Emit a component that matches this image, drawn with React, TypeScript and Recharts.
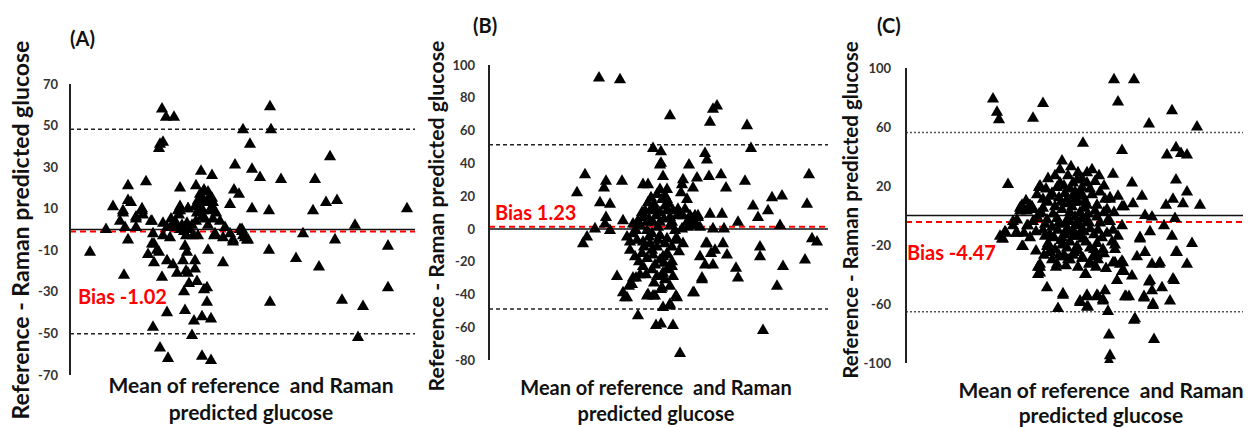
import React from "react";
import { ScatterChart, Scatter, XAxis, YAxis, ZAxis, ReferenceLine } from "recharts";

type Pt = [number, number];

const FONT = "Lato, 'Open Sans', sans-serif";

// (A) mean glucose vs difference
const panelAPoints: Pt[] = [
  [142, 58], [146, 54], [154, 54], [143, 42], [140, 41], [139, 39], [250, 59], [251, 48], [223, 48], [230, 41],
  [310, 35], [215, 31], [232, 29], [240, 25], [261, 24], [295, 24], [181, 28], [192, 26], [108, 21], [126, 23],
  [160, 20], [176, 21], [214, 19], [219, 17], [93, 11], [108, 14], [111, 13], [122, 10], [123, 7], [116, 6],
  [103, 8], [100, 4], [105, 1], [116, 1], [86, 0], [131, 4], [180, 17], [188, 18], [182, 15], [192, 15],
  [185, 13], [192, 11], [168, 10], [177, 11], [160, 11], [158, 9], [210, 12], [232, 10], [249, 9], [293, 9],
  [306, 13], [317, 14], [387, 10], [335, 2], [283, -2], [222, 0], [223, -3], [227, -5], [228, -5], [213, -6],
  [203, -4], [194, -3], [200, 4], [70, -11], [108, -5], [249, -10], [276, -14], [299, -18], [315, -5], [368, -8],
  [104, -22], [128, -12], [134, -7], [137, -10], [139, -11], [134, -16], [147, -15], [153, -17], [157, -21], [142, -23],
  [165, -8], [167, -11], [163, -15], [168, -21], [166, -20], [175, -15], [175, -19], [203, -16], [188, -10], [164, -30],
  [169, -26], [177, -25], [184, -29], [187, -28], [187, -35], [147, -40], [165, -39], [174, -44], [182, -42], [191, -43],
  [133, -47], [172, -51], [140, -57], [148, -62], [182, -61], [191, -63], [250, -35], [322, -34], [343, -37], [368, -28],
  [338, -52], [143, 3], [151, 5], [152, 2], [157, 1], [162, 2], [167, 3], [172, 2], [143, -3], [150, -4],
  [160, 0], [166, -3], [173, -3], [178, -3], [170, 0], [132, 4], [133, -2], [160, 9], [168, 10], [175, 11],
  [178, 14], [187, 13], [182, 6], [185, 5], [188, 2], [193, 5], [195, -2], [213, -5], [220, 0], [225, -4],
  [222, -1], [193, 13], [190, 9], [180, 10], [177, 8], [159, 7], [116, 5], [122, 9], [103, 9], [132, -7],
  [155, 4], [147, 1], [164, -1], [176, 4], [183, 9], [190, 16], [184, 19], [196, 8], [205, 1], [210, -2],
];

// (B)
const panelBPoints: Pt[] = [
  [160, 92], [181, 91], [231, 69], [271, 65], [274, 73], [278, 75], [308, 63], [312, 49], [214, 49], [222, 47],
  [222, 40], [224, 32], [250, 39], [266, 46], [268, 42], [270, 32], [282, 33], [287, 25], [306, 29], [314, 14],
  [319, 7], [329, 11], [333, 19], [343, 20], [341, 2], [370, 33], [368, 15], [373, -6], [378, -8], [366, -19],
  [344, -23], [338, -35], [321, -11], [321, -17], [324, -62], [299, 4], [284, -9], [288, -16], [268, -9], [272, -15],
  [276, -13], [274, -22], [261, -17], [297, -24], [299, -30], [263, -31], [254, -39], [285, 0], [274, 0], [283, 9],
  [271, 9], [259, 7], [258, 2], [253, 6], [249, 1], [258, 31], [254, 25], [244, 30], [243, 27], [248, 18],
  [242, 22], [138, 22], [146, 33], [167, 29], [165, 25], [161, 16], [171, 15], [183, 29], [167, 7], [166, 3],
  [171, -1], [156, 0], [184, 5], [148, -5], [144, -9], [178, -29], [184, -39], [186, -42], [193, -34], [197, -30],
  [199, -53], [208, -41], [214, -41], [217, -59], [222, -58], [234, -59], [241, -76], [224, -48], [231, -47], [238, -42],
  [231, -35], [222, -37], [223, -28], [228, -25], [233, -23], [224, -17], [229, -16], [244, -9], [238, -6], [204, 27],
  [209, 27], [221, 39], [221, 24], [228, 24], [218, 21], [223, 18], [228, 18], [209, 16], [211, 11], [216, 12],
  [221, 10], [228, 11], [234, 11], [231, 7], [238, 8], [241, 9], [244, 8], [251, 8], [256, 8], [259, 8],
  [254, 3], [261, 1], [206, 11], [204, 7], [199, 5], [194, 3], [201, 2], [208, 4], [214, 4], [221, 4],
  [231, 2], [236, -1], [243, 0], [248, 4], [236, -7], [228, -6], [221, -4], [213, -3], [208, -1], [194, -3],
  [188, -5], [191, -8], [198, -7], [204, -8], [211, -9], [218, -11], [191, -13], [196, -17], [203, -15], [208, -18],
  [213, -13], [221, -19], [228, -15], [233, -20], [204, -23], [201, -28], [213, -25], [218, -29], [224, -27], [229, -24],
  [234, -29], [194, -30], [190, -35], [188, -42], [209, -40], [216, -41], [223, -36], [237, -41], [231, -46], [255, -39],
  [263, -30], [267, -9], [266, -22], [210, 6], [217, 8], [225, 6], [233, 4], [239, 12], [226, 14], [215, 15],
  [203, 10], [197, -1], [205, -11], [214, -16], [219, -7], [226, -9], [233, -11], [240, -14], [225, -21], [216, -22],
  [207, -28], [215, -33], [226, -31], [219, 1], [226, 20], [212, 19], [246, 12], [230, 15], [200, -20], [210, -5],
];

// (C)
const panelCPoints: Pt[] = [
  [137, 79], [141, 70], [143, 65], [177, 66], [187, 76], [258, 92], [278, 92], [262, 77], [293, 62], [316, 71],
  [341, 60], [227, 49], [266, 44], [311, 41], [320, 46], [325, 42], [331, 41], [206, 37], [257, 28], [276, 22],
  [320, 24], [331, 16], [152, 21], [286, 13], [310, 7], [317, 11], [327, 8], [344, 7], [277, 8], [268, 6],
  [262, 13], [254, 11], [289, 0], [296, -1], [319, -2], [294, -11], [308, -7], [316, -14], [336, -19], [284, -16],
  [259, -20], [320, -25], [331, -33], [281, -28], [289, -25], [296, -33], [303, -33], [257, -32], [266, -31], [268, -38],
  [276, -41], [261, -44], [293, -45], [317, -43], [306, -49], [296, -51], [288, -55], [297, -61], [314, -58], [270, -55],
  [273, -55], [278, -71], [298, -84], [231, -54], [224, -59], [232, -62], [242, -55], [249, -51], [247, -58], [252, -65],
  [253, -81], [254, -95], [253, -99], [207, -54], [202, -63], [191, -49], [182, -40], [184, -35], [200, -35], [230, -40],
  [233, -33], [241, -27], [242, -30], [226, -29], [212, -30], [207, -28], [194, -24], [191, -21], [167, -21], [147, -16],
  [150, -12], [160, -12], [172, -7], [157, -4], [164, 5], [176, 6], [171, 3], [183, 1], [183, 19], [192, 25],
  [204, 31], [184, 20], [222, 29], [231, 29], [212, 27], [239, 23], [217, 22], [226, 19], [234, 18], [201, 19],
  [209, 15], [194, 13], [187, 11], [174, 7], [166, 7], [177, 4], [164, 3], [187, 5], [199, 6], [206, 4],
  [216, 6], [222, 9], [231, 7], [241, 7], [249, 11], [254, 12], [266, 6], [251, 4], [232, 1], [241, -1],
  [219, -1], [211, -3], [201, -2], [191, -3], [182, -2], [171, -7], [161, -3], [157, -7], [149, -11], [144, -14],
  [161, -12], [187, -10], [194, -13], [202, -10], [209, -13], [217, -10], [224, -12], [234, -9], [242, -10], [251, -12],
  [257, -10], [266, -7], [244, -5], [254, -4], [192, -19], [199, -23], [206, -20], [214, -18], [221, -21], [227, -16],
  [234, -22], [241, -19], [247, -23], [256, -18], [259, -23], [209, -28], [217, -27], [227, -29], [237, -28], [184, -33],
  [264, -33], [211, 11], [217, 13], [227, 13], [214, 18], [204, 22], [221, 24], [231, 22], [211, -9], [217, -14],
  [224, -7], [231, -4], [224, 2], [214, 2], [206, -15], [211, -22], [222, -24], [146, -16], [166, -21], [184, -39],
  [207, -53], [224, -58], [231, -55], [231, -62], [241, -54], [247, -57], [279, -70], [269, -55], [288, -56], [297, -60],
  [294, -44], [318, -44], [266, -38], [267, -32], [259, -32], [304, -32], [321, -25], [284, -15], [234, -32], [229, -40],
  [214, -30], [201, -33], [194, -25], [182, -35], [196, 15], [203, 12], [208, 20], [213, 8], [219, 16], [224, 14],
  [229, 10], [236, 14], [244, 16], [248, 2], [239, 3], [228, 5], [218, 9], [205, 9], [197, 1], [189, -6],
  [196, -8], [203, -5], [209, -6], [214, -4], [220, -6], [226, -2], [233, -5], [238, -13], [246, -15], [228, -11],
  [221, -14], [213, -11], [205, -17], [198, -15], [189, -14], [180, -11], [177, -4], [185, 2], [192, 9], [199, 27],
  [215, 33], [226, 25], [236, 31], [243, 27], [248, 20], [252, -3], [258, 2], [262, -14], [248, -26], [238, -23],
  [230, -18], [218, -25], [203, -27], [196, -30], [188, -27], [180, -24], [174, -15], [168, -12], [170, 10], [181, 14],
  [190, 18], [210, -34], [222, -35], [240, -35], [250, -36],
];

const ticksA = [-70, -50, -30, -10, 10, 30, 50, 70];
const ticksB = [-80, -60, -40, -20, 0, 20, 40, 60, 80, 100];
const ticksC = [-100, -60, -20, 20, 60, 100];

const biasA = -1.02;
const biasB = 1.23;
const biasC = -4.47;
const loaA = [48.2, -50.2];
const loaB = [51.3, -48.9];
const loaC = [56.2, -65.2];

type PanelProps = {
  left: number;
  width: number;
  top: number;
  bottom: number;
  right: number;
  yWidth: number;
  xDomain: [number, number];
  yDomain: [number, number];
  ticks: number[];
  points: Pt[];
  bias: number;
  loa: number[];
  dotted?: boolean;
  tickGap: number;
  markSize: number;
};

function Panel(p: PanelProps) {
  const data = p.points.map(([x, y]) => ({ x, y }));
  const loaStyle = p.dotted
    ? { stroke: "#555", strokeDasharray: "2 2", strokeWidth: 1.5 }
    : { stroke: "#222", strokeDasharray: "4 3", strokeWidth: 1.5 };
  return (
    <div style={{ position: "absolute", left: p.left, top: 0 }}>
      <ScatterChart width={p.width} height={428} margin={{ top: p.top, bottom: p.bottom, left: 0, right: p.right }}>
        <XAxis type="number" dataKey="x" domain={p.xDomain} hide allowDataOverflow />
        <YAxis
          type="number"
          dataKey="y"
          domain={p.yDomain}
          ticks={p.ticks}
          interval={0}
          width={p.yWidth}
          allowDataOverflow
          axisLine={{ stroke: "#222", strokeWidth: 2 }}
          tickLine={false}
          tickSize={0}
          tickMargin={p.tickGap}
          tick={{ fontSize: 13, fontWeight: 700, fill: "#333", fontFamily: FONT }}
        />
        <ZAxis range={[p.markSize, p.markSize]} />
        <ReferenceLine y={0} stroke="#111" strokeWidth={1.5} />
        <ReferenceLine y={p.loa[0]} {...loaStyle} />
        <ReferenceLine y={p.loa[1]} {...loaStyle} />
        <ReferenceLine y={p.bias} stroke="#ff0000" strokeDasharray="6 4" strokeWidth={2} />
        <Scatter data={data} fill="#000" shape="triangle" isAnimationActive={false} />
      </ScatterChart>
    </div>
  );
}

const txt = (style: React.CSSProperties): React.CSSProperties => ({
  position: "absolute",
  fontFamily: FONT,
  fontWeight: 700,
  whiteSpace: "pre",
  lineHeight: 1,
  color: "#111",
  ...style,
});

function YLabel({ cx, cy, size }: { cx: number; cy: number; size: number }) {
  return (
    <div style={txt({ left: cx, top: cy, fontSize: size, transform: "translate(-50%, -50%) rotate(-90deg)" })}>
      Reference - Raman predicted glucose
    </div>
  );
}

function XLabel({ cx, y1, size, gap }: { cx: number; y1: number; size: number; gap: number }) {
  return (
    <div style={txt({ left: cx, top: y1 - gap / 2, fontSize: size, lineHeight: `${gap}px`, textAlign: "center", transform: "translateX(-50%)" })}>
      {"Mean of reference  and Raman\npredicted glucose"}
    </div>
  );
}

function Bias({ x, cy, text }: { x: number; cy: number; text: string }) {
  return <div style={txt({ left: x, top: cy - 10, fontSize: 20, color: "#ff0000" })}>{text}</div>;
}

export default function App() {
  return (
    <div style={{ position: "absolute", left: 0, top: 0, width: 1248, height: 428, background: "#fff", overflow: "hidden" }}>
      <Panel left={0} width={420} top={84} bottom={53} right={5} yWidth={70} xDomain={[50, 395]} yDomain={[-70, 70]}
        ticks={ticksA} points={panelAPoints} bias={biasA} loa={loaA} tickGap={12} markSize={34} />
      <Panel left={420} width={410} top={65} bottom={68} right={2} yWidth={69} xDomain={[50, 389]} yDomain={[-80, 100]}
        ticks={ticksB} points={panelBPoints} bias={biasB} loa={loaB} tickGap={14} markSize={34} />
      <Panel left={830} width={418} top={68} bottom={65} right={5} yWidth={76} xDomain={[50, 387]} yDomain={[-100, 100]}
        ticks={ticksC} points={panelCPoints} bias={biasC} loa={loaC} dotted tickGap={15} markSize={42} />

      <div style={txt({ left: 70, top: 28, fontSize: 20 })}>(A)</div>
      <div style={txt({ left: 473, top: 15, fontSize: 20 })}>(B)</div>
      <div style={txt({ left: 877, top: 15, fontSize: 20 })}>(C)</div>

      <YLabel cx={20} cy={230} size={23} />
      <YLabel cx={437} cy={216} size={21.3} />
      <YLabel cx={850} cy={210} size={20.5} />

      <XLabel cx={251} y1={384} size={21} gap={27} />
      <XLabel cx={656} y1={387} size={20} gap={26} />
      <XLabel cx={1101} y1={389} size={21} gap={25} />

      <Bias x={78} cy={296} text="Bias -1.02" />
      <Bias x={495} cy={212} text="Bias 1.23" />
      <Bias x={907} cy={252} text="Bias -4.47" />
    </div>
  );
}
